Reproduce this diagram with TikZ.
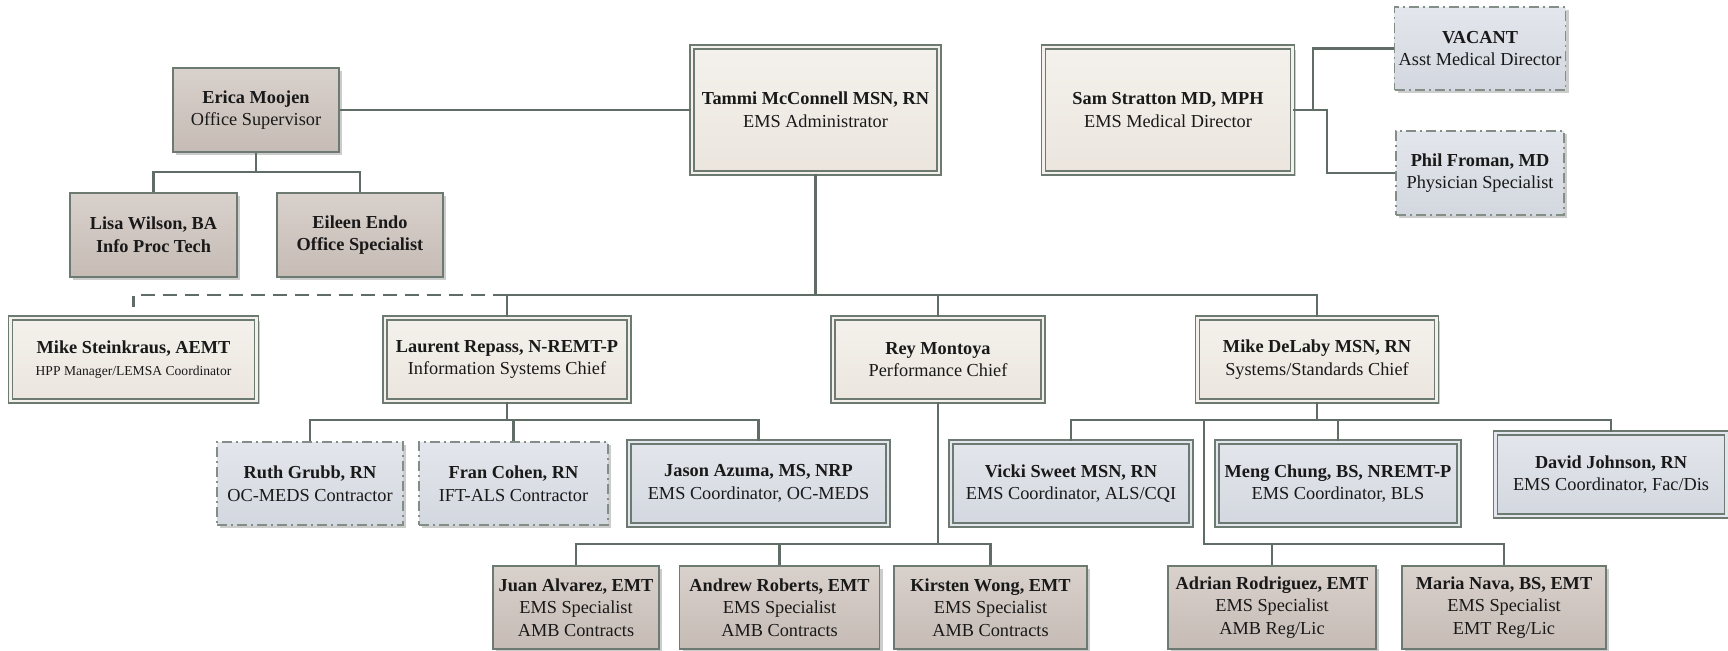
\documentclass[tikz,border=0pt]{standalone}
\usepackage{fontspec}
\setmainfont{Liberation Serif}
\usetikzlibrary{shadows}

\definecolor{linecol}{HTML}{5F6D66}
\definecolor{edgecol}{HTML}{6D7A72}
\definecolor{creamtop}{HTML}{F4F1EC}
\definecolor{creambot}{HTML}{EBE5DE}
\definecolor{mauvetop}{HTML}{D9D1CC}
\definecolor{mauvebot}{HTML}{C6BBB5}
\definecolor{bluetop}{HTML}{E3E6EC}
\definecolor{bluebot}{HTML}{D3D7DF}

\tikzset{
  box/.style={align=center, inner sep=2pt, text=black!90,
    font=\fontsize{9.15}{11.3}\selectfont, minimum height=41.5pt,
    drop shadow={shadow xshift=1.6pt, shadow yshift=-1.6pt, fill=black!50, opacity=0.4}},
  chief/.style={box, top color=creamtop, bottom color=creambot, draw=edgecol,
    double=creamtop, line width=0.8pt, double distance=1.3pt},
  staff/.style={box, top color=mauvetop, bottom color=mauvebot, draw=edgecol, line width=0.9pt},
  coord/.style={box, top color=bluetop, bottom color=bluebot, draw=edgecol,
    double=bluetop, line width=0.8pt, double distance=1.3pt},
  contract/.style={box, top color=bluetop, bottom color=bluebot, draw=edgecol!85,
    line width=0.7pt, dash pattern=on 5pt off 2pt on 1pt off 2pt},
  link/.style={draw=linecol, line width=1.1pt},
}

\begin{document}
\begin{tikzpicture}[x=0.5pt, y=-0.5pt]
\useasboundingbox (0,0) rectangle (1728,650);
% bus levels
\coordinate (r1) at (0,172);
\coordinate (r2) at (0,295);
\coordinate (r3) at (0,420);
\coordinate (r4) at (0,544);
% top row
\node[staff, minimum width=83pt, minimum height=42pt] (erica) at (256,110) {\textbf{Erica Moojen}\\Office Supervisor};
\node[chief, minimum width=123.5pt, minimum height=63pt] (tammi) at (815.5,110) {\textbf{Tammi McConnell MSN, RN}\\EMS Administrator};
\node[chief, minimum width=124.5pt, minimum height=63pt] (sam) at (1168,110) {\textbf{Sam Stratton MD, MPH}\\EMS Medical Director};
\node[contract, minimum width=84pt] (vacant) at (1480,48.5) {\textbf{VACANT}\\Asst Medical Director};
\node[contract, minimum width=84pt, minimum height=42pt] (phil) at (1480,173) {\textbf{Phil Froman, MD}\\Physician Specialist};
% office staff
\node[staff, minimum width=83.5pt, minimum height=42pt] (lisa) at (153.5,235) {\textbf{Lisa Wilson, BA}\\\textbf{Info Proc Tech}};
\node[staff, minimum width=83pt, minimum height=42pt] (eileen) at (360,235) {\textbf{Eileen Endo}\\\textbf{Office Specialist}};
% chiefs
\node[chief, minimum width=123pt] (mikes) at (133.5,359.5) {\textbf{Mike Steinkraus, AEMT}\\{\fontsize{6.8}{8}\selectfont HPP Manager/LEMSA Coordinator}};
\node[chief, minimum width=122pt] (laurent) at (507,359.5) {\textbf{Laurent Repass, N-REMT-P}\\Information Systems Chief};
\node[chief, minimum width=105pt] (rey) at (938,359.5) {\textbf{Rey Montoya}\\Performance Chief};
\node[chief, minimum width=119.5pt] (miked) at (1317,359.5) {\textbf{Mike DeLaby MSN, RN}\\Systems/Standards Chief};
% coordinators
\node[contract, minimum width=93pt] (ruth) at (310,483.5) {\textbf{Ruth Grubb, RN}\\OC-MEDS Contractor};
\node[contract, minimum width=94.5pt] (fran) at (513.5,483.5) {\textbf{Fran Cohen, RN}\\IFT-ALS Contractor};
\node[coord, minimum width=129.5pt] (jason) at (758.5,483.5) {\textbf{Jason Azuma, MS, NRP}\\EMS Coordinator, OC-MEDS};
\node[coord, minimum width=120pt] (vicki) at (1071,483.5) {\textbf{Vicki Sweet MSN, RN}\\EMS Coordinator, ALS/CQI};
\node[coord, minimum width=121pt] (meng) at (1338,483.5) {\textbf{Meng Chung, BS, NREMT-P}\\EMS Coordinator, BLS};
\node[coord, minimum width=115.5pt] (david) at (1611,474.5) {\textbf{David Johnson, RN}\\EMS Coordinator, Fac/Dis};
% specialists
\node[staff, minimum width=83pt] (juan) at (576,607.5) {\textbf{Juan Alvarez, EMT}\\EMS Specialist\\AMB Contracts};
\node[staff, minimum width=100pt] (andrew) at (779.5,607.5) {\textbf{Andrew Roberts, EMT}\\EMS Specialist\\AMB Contracts};
\node[staff, minimum width=96.5pt] (kirsten) at (990.5,607.5) {\textbf{Kirsten Wong, EMT}\\EMS Specialist\\AMB Contracts};
\node[staff, minimum width=104pt] (adrian) at (1272,607.5) {\textbf{Adrian Rodriguez, EMT}\\EMS Specialist\\AMB Reg/Lic};
\node[staff, minimum width=102pt] (maria) at (1504,607.5) {\textbf{Maria Nava, BS, EMT}\\EMS Specialist\\EMT Reg/Lic};
% connectors
\draw[link] (erica) -- (tammi);
\draw[link] (erica.south) -- (erica.south |- r1) -| (lisa.north);
\draw[link] (erica.south |- r1) -| (eileen.north);
\coordinate (supper) at (1313,110);
\coordinate (slower) at (1327,110);
\draw[link] (sam.east) -- (slower) |- (phil.west);
\draw[link] (supper) |- (vacant.west);
\coordinate (mstub) at (133.5,307);
\draw[link] (tammi.south) -- (tammi.south |- r2) -| (miked.north);
\draw[link] (tammi.south |- r2) -| (laurent.north);
\draw[link] (rey.north) -- (rey.north |- r2);
\draw[link, dash pattern=on 7pt off 4pt] (laurent.north |- r2) -| (mstub);
\draw[link] (laurent.south) -- (laurent.south |- r3) -| (ruth.north);
\draw[link] (laurent.south |- r3) -| (fran.north);
\draw[link] (laurent.south |- r3) -| (jason.north);
\draw[link] (rey.south) -- (rey.south |- r4) -| (juan.north);
\draw[link] (rey.south |- r4) -| (andrew.north);
\draw[link] (rey.south |- r4) -| (kirsten.north);
\draw[link] (miked.south) -- (miked.south |- r3) -| (vicki.north);
\draw[link] (miked.south |- r3) -| (meng.north);
\draw[link] (miked.south |- r3) -| (david.north);
\coordinate (spec) at (1204,420);
\draw[link] (spec) -- (spec |- r4) -| (adrian.north);
\draw[link] (spec |- r4) -| (maria.north);
\end{tikzpicture}
\end{document}
